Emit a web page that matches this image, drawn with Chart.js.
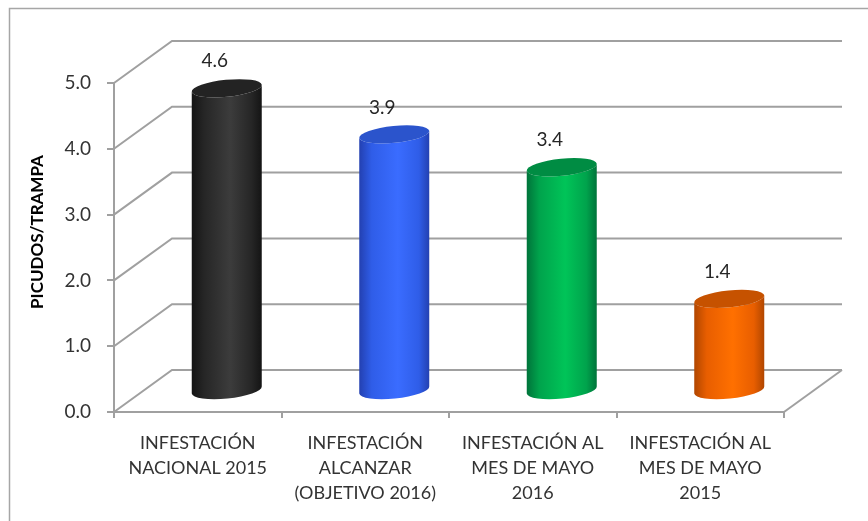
<!DOCTYPE html>
<html>
<head>
<meta charset="utf-8">
<script src="https://cdn.jsdelivr.net/npm/chart.js@4.4.1/dist/chart.umd.min.js"></script>
<style>
  html, body { margin: 0; padding: 0; background: #ffffff; }
  #wrap { position: relative; width: 868px; height: 521px; }
</style>
</head>
<body>
<div id="wrap"><canvas id="c" width="868" height="521"></canvas></div>
<script>
// ---- data ----
const categories = [
  ["INFESTACIÓN", "NACIONAL 2015"],
  ["INFESTACIÓN", "ALCANZAR", "(OBJETIVO 2016)"],
  ["INFESTACIÓN AL", "MES DE MAYO", "2016"],
  ["INFESTACIÓN AL", "MES DE MAYO", "2015"]
];
const values = [4.6, 3.9, 3.4, 1.4];
const yTicks = [0, 1, 2, 3, 4, 5];
const yTitle = "PICUDOS/TRAMPA";

// ---- style ----
const palette = [
  { edge: '#141414', mid: '#262626', light: '#3c3c3c', top: '#232323' },
  { edge: '#2340b0', mid: '#2f5de8', light: '#3a6cff', top: '#2b54cc' },
  { edge: '#00733a', mid: '#00a34c', light: '#00c458', top: '#008c43' },
  { edge: '#b04600', mid: '#e85e00', light: '#ff7000', top: '#c65200' }
];
const DEPTH_X = 58, DEPTH_Y = -42;
const GRID = '#a0a0a0';
const FONT = 'Lato, "Open Sans", "Liberation Sans", sans-serif';

function cylinder(ctx, cx, yTop, yBot, w, ry, rot, col) {
  const a = w / 2;
  const pt = (cy, t) => [
    cx + a * Math.cos(t) * Math.cos(rot) - ry * Math.sin(t) * Math.sin(rot),
    cy + a * Math.cos(t) * Math.sin(rot) + ry * Math.sin(t) * Math.cos(rot)
  ];
  const grad = ctx.createLinearGradient(cx - a, 0, cx + a, 0);
  grad.addColorStop(0, col.edge);
  grad.addColorStop(0.18, col.mid);
  grad.addColorStop(0.55, col.light);
  grad.addColorStop(0.85, col.mid);
  grad.addColorStop(1, col.edge);
  ctx.save();
  ctx.beginPath();
  const tl = pt(yTop, Math.PI);
  ctx.moveTo(tl[0], tl[1]);
  const bl = pt(yBot, Math.PI);
  ctx.lineTo(bl[0], bl[1]);
  ctx.ellipse(cx, yBot, a, ry, rot, Math.PI, 0, true);
  const tr = pt(yTop, 0);
  ctx.lineTo(tr[0], tr[1]);
  ctx.ellipse(cx, yTop, a, ry, rot, 0, Math.PI, false);
  ctx.closePath();
  ctx.fillStyle = grad;
  ctx.fill();
  ctx.beginPath();
  ctx.ellipse(cx, yTop, a, ry, rot, 0, Math.PI * 2);
  ctx.fillStyle = col.top;
  ctx.fill();
  ctx.restore();
}

const frame3d = {
  id: 'frame3d',
  beforeDraw(chart) {
    const ctx = chart.ctx;
    const xs = chart.scales.x, ys = chart.scales.y;
    ctx.save();
    // outer chart border (partly cut off)
    ctx.strokeStyle = '#a6a6a6';
    ctx.lineWidth = 1.5;
    ctx.beginPath();
    ctx.moveTo(9.5, chart.height);
    ctx.lineTo(9.5, 8.5);
    ctx.lineTo(chart.width, 8.5);
    ctx.stroke();
    // back wall gridlines + side wall diagonals
    ctx.strokeStyle = GRID;
    ctx.lineWidth = 2;
    yTicks.forEach(v => {
      const y = ys.getPixelForValue(v);
      ctx.beginPath();
      ctx.moveTo(xs.left, y);
      ctx.lineTo(xs.left + DEPTH_X, y + DEPTH_Y);
      ctx.lineTo(xs.right + DEPTH_X, y + DEPTH_Y);
      ctx.stroke();
    });
    // floor right edge
    const y0 = ys.getPixelForValue(0);
    ctx.beginPath();
    ctx.moveTo(xs.right, y0);
    ctx.lineTo(xs.right + DEPTH_X, y0 + DEPTH_Y);
    ctx.stroke();
    ctx.restore();
  },
  afterDatasetsDraw(chart) {
    const ctx = chart.ctx;
    const meta = chart.getDatasetMeta(0);
    meta.data.forEach((el, i) => {
      const cx = el.x + DEPTH_X / 2;
      const yTop = el.y + DEPTH_Y / 2;
      const yBot = el.base + DEPTH_Y / 2;
      cylinder(ctx, cx, yTop, yBot, el.width, 8.5, -0.1, palette[i]);
      ctx.save();
      ctx.font = '19px ' + FONT;
      ctx.fillStyle = '#262626';
      ctx.textAlign = 'center';
      ctx.textBaseline = 'middle';
      ctx.fillText(values[i].toFixed(1), cx - 12, yTop - 27);
      ctx.restore();
    });
  },
  afterDraw(chart) {
    const ctx = chart.ctx;
    ctx.save();
    ctx.translate(38, 232);
    ctx.rotate(-Math.PI / 2);
    ctx.font = 'bold 17px ' + FONT;
    ctx.fillStyle = '#000000';
    ctx.textAlign = 'center';
    ctx.textBaseline = 'middle';
    ctx.fillText(yTitle, 0, 0);
    ctx.restore();
  }
};

new Chart(document.getElementById('c'), {
  type: 'bar',
  data: {
    labels: categories,
    datasets: [{
      data: values,
      backgroundColor: 'rgba(0,0,0,0)',
      borderWidth: 0,
      barPercentage: 0.42,
      categoryPercentage: 1
    }]
  },
  options: {
    responsive: false,
    animation: false,
    events: [],
    layout: { padding: { top: 83, right: 84, left: 0, bottom: 0 } },
    plugins: { legend: { display: false }, tooltip: { enabled: false } },
    scales: {
      x: {
        afterFit: s => { s.height = 109; },
        grid: { drawOnChartArea: false, drawTicks: true, tickLength: 6, color: GRID, lineWidth: 2, offset: true },
        border: { display: true, color: GRID, width: 2 },
        ticks: {
          maxRotation: 0, minRotation: 0, autoSkip: false, padding: 13,
          color: '#333333',
          font: { family: FONT, size: 18, lineHeight: 1.38 }
        }
      },
      y: {
        min: 0, max: 5,
        afterFit: s => { s.width = 114; },
        grid: { drawOnChartArea: false, drawTicks: true, tickLength: 7, color: GRID, lineWidth: 2 },
        border: { display: true, color: GRID, width: 2 },
        ticks: {
          stepSize: 1, padding: 16, color: '#333333',
          font: { family: FONT, size: 19 },
          callback: v => Number(v).toFixed(1)
        }
      }
    }
  },
  plugins: [frame3d]
});
</script>
</body>
</html>
